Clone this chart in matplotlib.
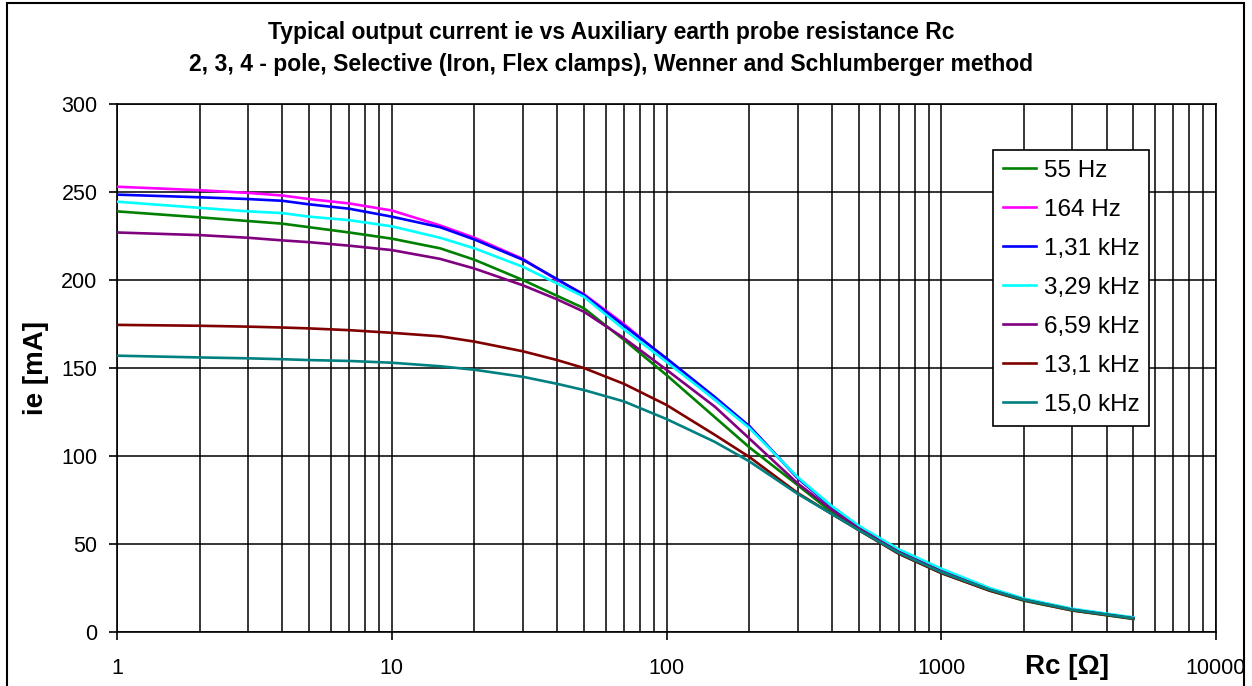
import matplotlib
matplotlib.use("Agg")
import matplotlib.pyplot as plt
from matplotlib.patches import Rectangle
from matplotlib.ticker import LogLocator, FixedLocator, NullFormatter

plt.rcParams["font.family"] = ["Liberation Sans", "DejaVu Sans"]

# Auxiliary probe resistance Rc [ohm]
rc = [1, 2, 3, 4, 5, 7, 10, 15, 20, 30, 40, 50, 70, 100, 150, 200,
      300, 400, 500, 700, 1000, 1500, 2000, 3000, 5000]

# Output current ie [mA] per test frequency
ie_55hz = [239, 235.6, 233.5, 232, 230, 227, 223.5, 218, 211.5, 200, 191, 184,
           166, 146, 122, 105, 83.5, 68, 58, 44.5, 33.5, 23.5, 17.8, 12.2, 7.4]
ie_164hz = [253, 251, 249.5, 248, 246, 243.5, 239.5, 231, 224, 212, 200, 192,
            175, 155, 132, 117, 87.5, 71, 60, 46, 35, 24.5, 18.5, 12.8, 8]
ie_1k31 = [248.5, 247, 246, 245, 243, 240.5, 236, 230, 223, 211.5, 200.5, 191.5,
           174, 155.5, 133.5, 117, 87.5, 71, 60, 46, 35, 24.5, 18.5, 12.8, 8]
ie_3k29 = [244.5, 241, 239, 238, 236, 234, 230.5, 224, 218, 207.5, 198, 190.5,
           172, 153.5, 132, 116, 88, 71.5, 60.5, 47, 36, 25, 19, 13.2, 8.3]
ie_6k59 = [227, 225.5, 224, 222.5, 221.5, 219.5, 217, 212, 206.5, 197, 189, 182,
           167, 149, 128, 110, 84.5, 69.5, 59, 45.5, 34.5, 24, 18.3, 12.6, 7.8]
ie_13k1 = [174.5, 174, 173.5, 173, 172.5, 171.5, 170, 168, 165, 159.5, 154.5, 150,
           141, 129, 112, 99.5, 79, 67, 58, 44.5, 33.5, 23.5, 18, 12.3, 7.6]
ie_15k0 = [157, 156, 155.5, 155, 154.5, 154, 153, 151, 149, 145, 141, 137.5,
           131, 121, 108, 97, 78.5, 67, 58, 45, 34, 24, 18.3, 12.6, 7.8]

labels = ["55 Hz", "164 Hz", "1,31 kHz", "3,29 kHz", "6,59 kHz", "13,1 kHz", "15,0 kHz"]
series = [ie_55hz, ie_164hz, ie_1k31, ie_3k29, ie_6k59, ie_13k1, ie_15k0]
colors = ["#008000", "#FF00FF", "#0000FF", "#00FFFF", "#800080", "#800000", "#008080"]

fig = plt.figure(figsize=(12.52, 6.86), dpi=100)
ax = fig.add_axes([117/1252, 1 - 632/686, (1216 - 117)/1252, (632 - 104)/686])

for y, c, lab in zip(series, colors, labels):
    ax.plot(rc, y, color=c, lw=1.9, label=lab, zorder=3)

ax.set_xscale("log")
ax.set_xlim(1, 10000)
ax.set_ylim(0, 300)
ax.set_yticks(range(0, 301, 50))
ax.xaxis.set_major_locator(FixedLocator([1, 10, 100, 1000, 10000]))
ax.xaxis.set_minor_locator(LogLocator(base=10, subs=range(2, 10)))
ax.xaxis.set_minor_formatter(NullFormatter())
ax.set_xticklabels(["1", "10", "100", "1000", "10000"])

ax.grid(True, which="both", axis="x", color="black", lw=1.1)
ax.grid(True, which="major", axis="y", color="black", lw=1.1)
ax.tick_params(axis="both", which="major", labelsize=15.5, length=6, width=1.2,
               direction="out", color="black")
ax.tick_params(axis="y", which="major", pad=8)
ax.tick_params(axis="x", which="major", pad=13)
ax.tick_params(axis="x", which="minor", length=0)
for s in ax.spines.values():
    s.set_color("black")
    s.set_linewidth(1.2)

ax.set_ylabel("ie [mA]", fontsize=20, fontweight="bold", labelpad=9)
ax.text(0.864, -0.066, "Rc [\u03a9]", transform=ax.transAxes, fontsize=20,
        fontweight="bold", ha="center", va="center")

leg = ax.legend(loc="upper left", bbox_to_anchor=(0.797, 0.913), fontsize=17.5,
                frameon=True, fancybox=False, edgecolor="black", framealpha=1,
                labelspacing=0.7, handlelength=1.36, handletextpad=0.33,
                borderpad=0.4, borderaxespad=0)
leg.get_frame().set_linewidth(1.2)
leg.set_zorder(5)

fig.text(611/1252, 1 - 32/686,
         "Typical output current ie vs Auxiliary earth probe resistance Rc",
         ha="center", va="center", fontsize=16.5, fontweight="bold")
fig.text(611/1252, 1 - 64/686,
         "2, 3, 4 - pole, Selective (Iron, Flex clamps), Wenner and Schlumberger method",
         ha="center", va="center", fontsize=16.5, fontweight="bold")

fig.patches.append(Rectangle((7/1252, -0.01), (1244 - 7)/1252, 1.0 - 3/686 + 0.01,
                             transform=fig.transFigure, fill=False,
                             edgecolor="black", lw=1.5))

fig.savefig("out.png", dpi=100)
